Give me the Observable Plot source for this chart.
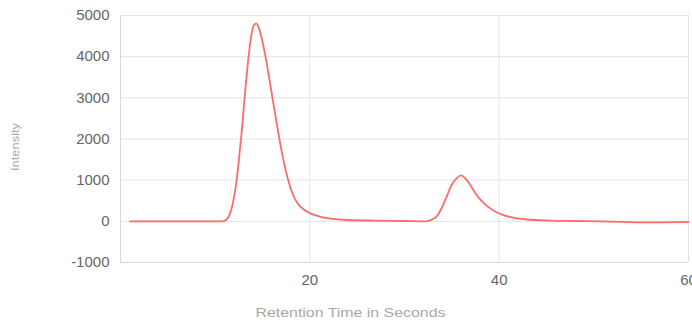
<!DOCTYPE html>
<html>
<head>
<meta charset="utf-8">
<script src="https://cdn.jsdelivr.net/npm/d3@7"></script>
<script src="https://cdn.jsdelivr.net/npm/@observablehq/plot@0.6"></script>
<style>
  html, body { margin: 0; padding: 0; background: #fff; }
  #chart { width: 692px; height: 320px; }
</style>
</head>
<body>
<div id="chart"></div>
<script>
const times = [1, 5, 10, 10.66, 11.18, 11.53, 11.89, 12.24, 12.49, 12.77, 13.05, 13.30, 13.55, 13.83, 14.11, 14.36, 14.64, 15.06, 15.59, 16.12, 16.65, 17.17, 17.70, 18.23, 18.76, 19.47, 20.18, 21.24, 22.65, 24, 27, 30, 32.3, 32.88, 33.40, 33.93, 34.46, 34.99, 35.52, 35.98, 36.40, 36.93, 37.46, 38.17, 38.87, 39.58, 40.46, 41.51, 42.93, 45.4, 48, 50.7, 56, 60];
const intensity = [0, 0, 0, 0, 41, 162, 460, 950, 1456, 2104, 2832, 3478, 4045, 4531, 4774, 4805, 4680, 4300, 3650, 2900, 2180, 1530, 1010, 640, 420, 270, 180, 105, 55, 32, 18, 8, 0, 41, 121, 324, 607, 890, 1051, 1115, 1051, 890, 690, 490, 345, 240, 150, 88, 45, 18, 8, 0, -25, -15];
const xTicks = [20, 40, 60];
const yTicks = [-1000, 0, 1000, 2000, 3000, 4000, 5000];
const xTitle = ["Retention Time in Seconds"];
const yTitle = ["Intensity"];

const data = times.map((t, i) => ({t, v: intensity[i]}));

const chart = Plot.plot({
  width: 692,
  height: 320,
  marginLeft: 120,
  marginRight: 4,
  marginTop: 15,
  marginBottom: 58,
  style: {fontFamily: "'Liberation Sans', Arial, sans-serif", background: "#fff"},
  x: {domain: [0, 60]},
  y: {domain: [-1000, 5000]},
  marks: [
    Plot.gridX(xTicks, {stroke: "#e3e3e3", strokeOpacity: 1}),
    Plot.gridY(yTicks, {stroke: "#e3e3e3", strokeOpacity: 1}),
    Plot.ruleX([0], {stroke: "#d8d8d8"}),
    Plot.ruleY([-1000], {stroke: "#d8d8d8"}),
    Plot.axisX(xTicks, {tickSize: 0, tickPadding: 12, fontSize: 15, color: "#666",
      tickFormat: d => String(d), label: null}),
    Plot.axisY(yTicks, {tickSize: 0, tickPadding: 11, fontSize: 15, color: "#666",
      tickFormat: d => String(d), label: null}),
    Plot.text(xTitle, {frameAnchor: "bottom", dx: -54, dy: 50, textAnchor: "middle", lineAnchor: "middle",
      fontSize: 13, fill: "#a8a8a8"}),
    Plot.text(yTitle, {frameAnchor: "left", dx: -105, dy: 8, rotate: -90, textAnchor: "middle", lineAnchor: "middle",
      fontSize: 11, fill: "#a8a8a8"}),
    Plot.line(data, {x: "t", y: "v", stroke: "#ff6a6a", strokeWidth: 1.8, curve: "monotone-x"})
  ]
});
document.getElementById("chart").appendChild(chart);
chart.querySelectorAll("text").forEach(el => {
  if (el.textContent === xTitle[0]) { el.setAttribute("textLength", "190"); el.setAttribute("lengthAdjust", "spacingAndGlyphs"); }
  if (el.textContent === yTitle[0]) { el.setAttribute("textLength", "48"); el.setAttribute("lengthAdjust", "spacingAndGlyphs"); }
});
</script>
</body>
</html>
